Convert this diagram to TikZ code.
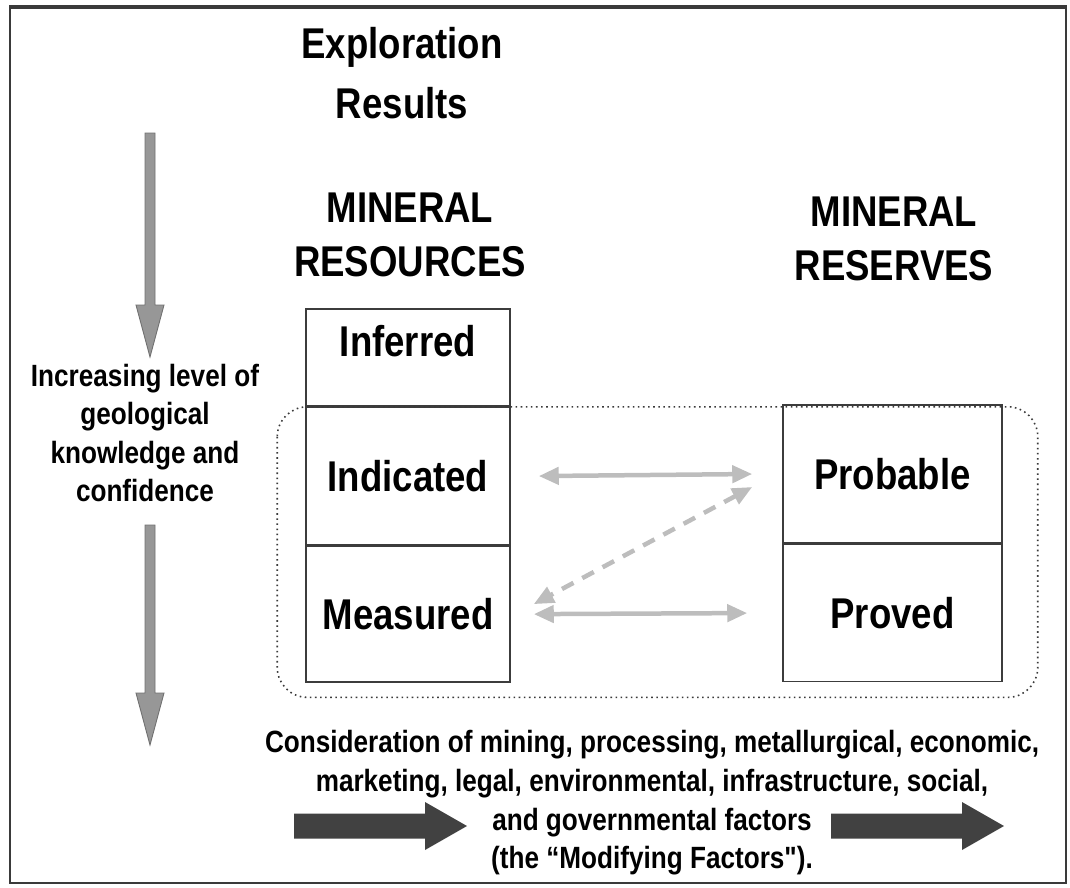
\documentclass[tikz,border=0pt]{standalone}
\usepackage{fontspec}
\setmainfont{Liberation Sans}[FakeStretch=0.85]
\newfontfamily\plainquote{Liberation Sans}[FakeStretch=0.85]
\usepackage{tikz}
\usetikzlibrary{arrows.meta,positioning,calc}
\definecolor{FrameGrey}{HTML}{3A3A3A}
\definecolor{BoxLine}{HTML}{3C3C3C}
\definecolor{PaleArrow}{HTML}{BDBDBD}
\definecolor{MidArrow}{HTML}{979797}
\definecolor{MidEdge}{HTML}{707070}
\definecolor{DarkArrow}{HTML}{414141}
\tikzset{
    every node/.style={font=\bfseries},
    headtext/.style={
        font=\fontsize{24.5}{#1}\selectfont\bfseries,
        align=center, inner sep=0pt
    },
    noteblock/.style={
        font=\fontsize{17.5}{22}\selectfont\bfseries,
        align=center, inner sep=0pt
    },
    classbox/.style={
        draw=BoxLine, line width=0.9pt, inner sep=0pt,
        minimum width=#1, sharp corners,
        font=\fontsize{24.5}{30}\selectfont\bfseries
    },
    linkarrow/.style={
        {Triangle[width=0.34cm,length=0.4cm]}-{Triangle[width=0.34cm,length=0.4cm]},
        line width=0.09cm, color=PaleArrow
    },
}
% fat grey arrow pointing down: x, top, tip
\newcommand{\geoarrow}[3]{%
    \draw[MidEdge, fill=MidArrow, line width=0.5pt]
        (#1-5,#2) -- (#1+5,#2) -- (#1+5,#3-52) -- (#1+14,#3-52) -- (#1,#3)
        -- (#1-14,#3-52) -- (#1-5,#3-52) -- cycle;}
% fat dark arrow pointing right: y, start, tip
\newcommand{\factorarrow}[3]{%
    \fill[DarkArrow]
        (#2,#1-12.5) -- (#3-42,#1-12.5) -- (#3-42,#1-24) -- (#3,#1)
        -- (#3-42,#1+24) -- (#3-42,#1+12.5) -- (#2,#1+12.5) -- cycle;}

\begin{document}
\begin{tikzpicture}[x=0.02cm, y=-0.02cm]
    \useasboundingbox (0,0) rectangle (1070,887);

    % Frame
    \draw[FrameGrey, line width=0.9pt] (10,7) rectangle (1066,883);
    \draw[FrameGrey, line width=2.2pt] (9,7) -- (1067,7);

    % Headings
    \node[headtext=34] (explor) at (402,73) {Exploration\\Results};
    \node[headtext=31] (resour) at (410,235) {MINERAL\\RESOURCES};
    \node[headtext=31] (reserv) at (894,239) {MINERAL\\RESERVES};

    % Resource column
    \node[classbox=4.08cm, minimum height=1.94cm, text depth=0.68cm] (inf) at (408,357.5) {Inferred};
    \node[classbox=4.08cm, minimum height=2.74cm, below=0pt of inf] (ind) {Indicated};
    \node[classbox=4.08cm, minimum height=2.72cm, below=0pt of ind] (meas) {Measured};

    % Reserve column
    \node[classbox=4.38cm, minimum height=2.76cm] (prob) at (892.5,474) {Probable};
    \node[classbox=4.38cm, minimum height=2.74cm, below=0pt of prob] (prov) {Proved};

    % Dotted zone round the convertible classes
    \draw[FrameGrey, dotted, line width=0.9pt, rounded corners=0.6cm]
        ([xshift=-0.56cm]ind.north west) rectangle ([shift={(35,15)}]prov.south east);

    % Links between resources and reserves
    \draw[linkarrow] ([xshift=0.56cm]ind.east) -- ([xshift=-0.6cm]prob.west);
    \draw[linkarrow] ([xshift=0.46cm]meas.east) -- ([xshift=-0.7cm]prov.west);
    \draw[linkarrow, dash pattern=on 0.26cm off 0.2cm]
        ([shift={(-30,13)}]prob.west) -- ([shift={(23,-10)}]meas.east);

    % Knowledge and confidence
    \geoarrow{150}{133}{357}
    \node[noteblock] (knowl) at (145,433) {Increasing level of\\geological\\knowledge and\\confidence};
    \geoarrow{150}{525}{745}

    % Modifying factors
    \node[noteblock] (modif) at (652,803) {Consideration of mining, processing, metallurgical, economic,\\marketing, legal, environmental, infrastructure, social,\\and governmental factors\\(the “Modifying Factors{\plainquote\bfseries"}).};
    \factorarrow{826}{294}{467}
    \factorarrow{826}{831}{1004}
\end{tikzpicture}
\end{document}
